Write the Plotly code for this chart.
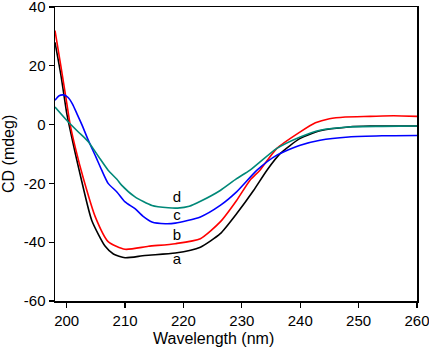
import plotly.graph_objects as go

# Curve a (black)
a_x = [198, 199, 200, 200.4, 201.5, 202.5, 204.3, 206.6, 208, 210, 213.4, 218.6, 222.9, 226.3, 229.1, 232, 234.3, 236.6, 240, 243.4, 248.3, 252, 256, 260]
a_y = [28, 17, 4, 0, -10, -18.6, -32.6, -41.4, -44, -45.3, -44.5, -43.7, -41.7, -37.1, -30.3, -22.4, -15.5, -9.8, -4.7, -2.1, -0.8, -0.5, -0.5, -0.5]

# Curve b (red)
b_x = [198, 199, 200, 200.6, 201.5, 202.9, 204.9, 207.1, 210, 214, 218.6, 222.9, 226.3, 229.1, 231.4, 233.1, 236, 240, 242.6, 245, 247.7, 252, 256, 260]
b_y = [32, 20, 7.5, 0, -8, -18.6, -31.4, -39.8, -42.4, -41.4, -40.5, -38.8, -33.1, -25.8, -18.9, -15.5, -8.1, -2.5, 0.6, 2, 2.6, 2.8, 3, 2.8]

# Curve c (blue)
c_x = [198, 198.7, 199.4, 200.2, 201, 201.8, 202.6, 203.7, 205, 206, 207.1, 208.6, 210, 211.7, 213.1, 214.6, 216.9, 218.6, 222.9, 226.3, 229.1, 232.6, 236, 240, 243.4, 248.3, 254, 260]
c_y = [8.3, 9.8, 10.1, 9.3, 7, 3.5, 0, -5.3, -11, -15.5, -20, -22.9, -26.3, -28.6, -31.2, -33.1, -33.7, -33.5, -31.4, -27.5, -22.9, -15.5, -10.4, -7, -5.3, -4.2, -3.8, -3.7]

# Curve d (teal)
d_x = [198, 200, 202, 203.7, 205.5, 207.1, 208.6, 209.4, 211.7, 214.6, 217.4, 219, 221, 223, 226.3, 229.1, 231.4, 236, 240, 243.4, 248.3, 254, 260]
d_y = [6, 1.5, -2.5, -5.8, -11, -15.5, -18.6, -20.6, -24.6, -27.5, -28.3, -28.4, -27.8, -26, -22.4, -18.4, -15.5, -8.1, -4.2, -1.9, -0.8, -0.6, -0.5]

labels = ["a", "b", "c", "d"]
label_x = [218.9, 218.9, 218.9, 218.9]
label_y = [-46.2, -38.1, -31.1, -25.1]

x_ticks = [200, 210, 220, 230, 240, 250, 260]
x_ticktext = ["200", "210", "220", "230", "240", "250", "260"]
y_ticks = [-60, -40, -20, 0, 20, 40]
y_ticktext = ["-60", "-40", "-20", "0", "20", "40"]

FONT = "Liberation Sans, Arial, sans-serif"

fig = go.Figure()
series = [(a_x, a_y, "black"), (b_x, b_y, "#ff0000"), (c_x, c_y, "#0000ff"), (d_x, d_y, "#008878")]
for xs, ys, col in series:
    fig.add_trace(go.Scatter(x=xs, y=ys, mode="lines",
                             line=dict(color=col, width=1.6, shape="spline", smoothing=0.6),
                             showlegend=False, hoverinfo="skip"))

fig.add_trace(go.Scatter(x=label_x, y=label_y, mode="text", text=labels,
                         textfont=dict(family=FONT, size=15, color="black"),
                         showlegend=False, hoverinfo="skip"))

axis_common = dict(showgrid=False, zeroline=False, showline=True, linecolor="black",
                   linewidth=1.5, mirror=True, ticks="outside", ticklen=5, tickwidth=1.3,
                   tickcolor="black", automargin=False, ticklabeloverflow="allow",
                   tickfont=dict(family=FONT, size=15, color="black"))

fig.update_xaxes(range=[198, 260], tickvals=x_ticks, ticktext=x_ticktext, **axis_common)
fig.update_yaxes(range=[-60, 40], tickvals=y_ticks, ticktext=y_ticktext, **axis_common)

fig.add_annotation(text="Wavelength (nm)", xref="paper", yref="paper", x=0.439, y=-0.126,
                   xanchor="center", yanchor="middle", showarrow=False,
                   font=dict(family=FONT, size=16, color="black"))
fig.add_annotation(text="CD (mdeg)", xref="paper", yref="paper", x=0, y=0.5,
                   xanchor="center", yanchor="middle", showarrow=False, textangle=-90,
                   xshift=-47, font=dict(family=FONT, size=16, color="black"))

fig.update_layout(width=429, height=348, margin=dict(l=55, r=12, t=7, b=47),
                  plot_bgcolor="white", paper_bgcolor="white", hovermode=False)

fig.write_html("out.html", config={"displayModeBar": False, "staticPlot": True},
               post_script="document.body.style.margin='0';document.body.style.overflow='hidden';")
